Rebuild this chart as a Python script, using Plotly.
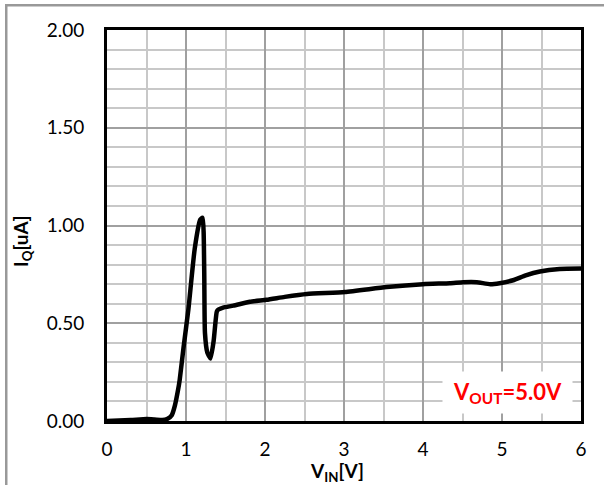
import plotly.graph_objects as go

# Data
vin = [0.0, 0.3, 0.5, 0.6, 0.7, 0.76, 0.82, 0.86, 0.90, 0.92, 0.97, 1.03, 1.11, 1.18, 1.21,
       1.23, 1.24, 1.27, 1.31, 1.35, 1.39, 1.41, 1.47, 1.6, 1.81, 2.02, 2.25, 2.53, 3.01,
       3.54, 4.0, 4.34, 4.51, 4.68, 4.85, 4.97, 5.14, 5.3, 5.48, 5.73, 6.0]
iq = [0.0, 0.005, 0.01, 0.008, 0.005, 0.01, 0.03, 0.08, 0.16, 0.21, 0.38, 0.57, 0.88, 1.03, 1.04,
      0.79, 0.45, 0.35, 0.32, 0.41, 0.56, 0.57, 0.58, 0.59, 0.61, 0.62, 0.635, 0.65, 0.66,
      0.685, 0.70, 0.705, 0.71, 0.71, 0.70, 0.705, 0.72, 0.745, 0.765, 0.778, 0.78]

x_ticks = [0, 1, 2, 3, 4, 5, 6]
y_ticks = [0.0, 0.5, 1.0, 1.5, 2.0]

FONT = "Lato"

fig = go.Figure()
fig.add_trace(go.Scatter(x=vin, y=iq, mode="lines",
                         line=dict(color="black", width=4.5, shape="spline", smoothing=0.5),
                         showlegend=False, hoverinfo="skip"))

fig.update_layout(
    width=604, height=485,
    margin=dict(l=107, r=23, t=30, b=64),
    paper_bgcolor="white", plot_bgcolor="white",
    font=dict(family=FONT, size=19, color="black"),
    xaxis=dict(range=[0, 6], tickvals=x_ticks, ticktext=[str(v) for v in x_ticks],
               showgrid=True, gridcolor="#a0a0a0", gridwidth=2,
               minor=dict(dtick=0.5, showgrid=True, gridcolor="#c8c8c8", gridwidth=2),
               showline=True, linecolor="black", linewidth=3, mirror=True,
               zeroline=False, ticks="", ticklabelstandoff=9, fixedrange=True),
    yaxis=dict(range=[0, 2], tickvals=y_ticks, ticktext=[f"{v:.2f}" for v in y_ticks],
               showgrid=True, gridcolor="#a0a0a0", gridwidth=2,
               minor=dict(dtick=0.1, showgrid=True, gridcolor="#c8c8c8", gridwidth=2),
               showline=True, linecolor="black", linewidth=3, mirror=True,
               zeroline=False, ticks="", ticklabelstandoff=16, fixedrange=True),
    annotations=[
        # outer chart-area frame (only left and top edges are inside the picture)
        dict(text=" ", x=(5 - 107) / 474, y=(421 - 4) / 391,
             xref="paper", yref="paper", xanchor="left", yanchor="top",
             showarrow=False, width=700, height=600, borderpad=0,
             bordercolor="#999999", borderwidth=2.5),
        dict(text="<b>V<sub>OUT</sub>=5.0V</b>", x=(507.5 - 107) / 474, y=(421 - 392.5) / 391,
             xref="paper", yref="paper", xanchor="center", yanchor="middle",
             showarrow=False, bgcolor="white",
             width=129, height=41, borderpad=0,
             font=dict(family=FONT, size=22, color="#ff0000")),
        dict(text="<b>I<sub>Q</sub>[uA]</b>", x=(22 - 107) / 474, y=(421 - 242) / 391,
             xref="paper", yref="paper", xanchor="center", yanchor="middle",
             showarrow=False, textangle=-90,
             font=dict(family=FONT, size=19, color="black")),
        dict(text="<b>V<sub>IN</sub>[V]</b>", x=(337 - 107) / 474, y=(421 - 472) / 391,
             xref="paper", yref="paper", xanchor="center", yanchor="middle",
             showarrow=False,
             font=dict(family=FONT, size=19, color="black")),
    ],
)

fig.write_html("out.html", config={"displayModeBar": False},
               post_script="document.body.style.margin='0px';document.body.style.overflow='hidden';")
